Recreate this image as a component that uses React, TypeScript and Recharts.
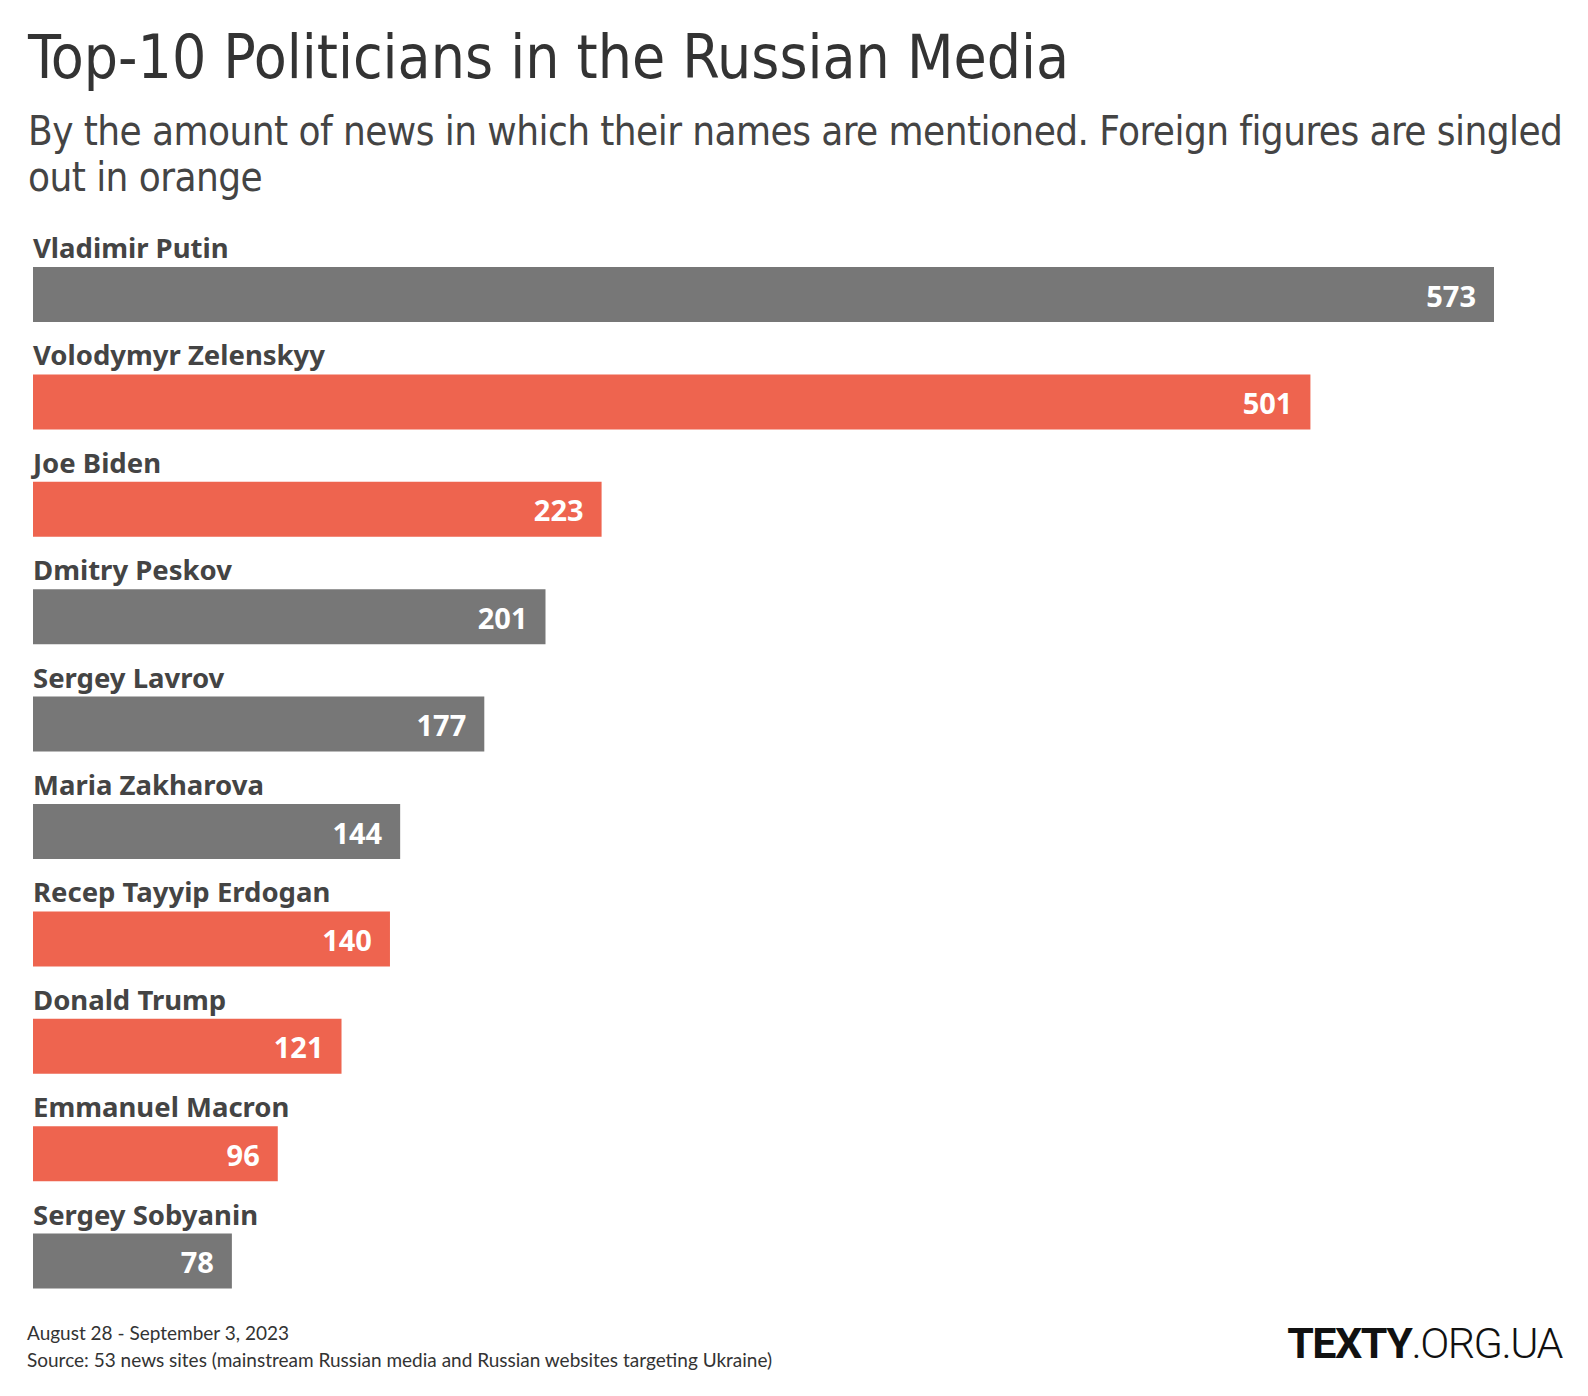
import React from 'react';
import { BarChart, Bar, XAxis, YAxis, Cell, LabelList } from 'recharts';

const names = [
    'Vladimir Putin',
    'Volodymyr Zelenskyy',
    'Joe Biden',
    'Dmitry Peskov',
    'Sergey Lavrov',
    'Maria Zakharova',
    'Recep Tayyip Erdogan',
    'Donald Trump',
    'Emmanuel Macron',
    'Sergey Sobyanin',
];
const mentions = [573, 501, 223, 201, 177, 144, 140, 121, 96, 78];
const foreign = [false, true, true, false, false, false, true, true, true, false];

const GREY = '#777777';
const ORANGE = '#ee644f';
const condensed = '"Liberation Sans Narrow", "DejaVu Sans Condensed", "Roboto", sans-serif';
const sans = '"Source Sans Pro", "Noto Sans", "Lato", sans-serif';
const footerFont = '"Source Sans Pro", "Lato", sans-serif';

const data = names.map((name, i) => ({ name, total: mentions[i] }));

// name above the bar, left aligned with it
const NameLabel = (props: any) => {
    const { x, y, value } = props;
    return (
        <text x={x} y={y - 9} fill='#444444' fontFamily={sans} fontWeight={700} fontSize={27.5}>
            {value}
        </text>
    );
};

// value inside the bar, right aligned
const ValueLabel = (props: any) => {
    const { x, y, width, height, value } = props;
    return (
        <text
            x={x + width - 18}
            y={y + height / 2 + 12}
            textAnchor='end'
            fill='#ffffff'
            fontFamily={sans}
            fontWeight={700}
            fontSize={29}
        >
            {value}
        </text>
    );
};

export default function App() {
    return (
        <div style={{ position: 'absolute', left: 0, top: 0, width: 1588, height: 1396, background: '#fff' }}>
            <div
                style={{
                    position: 'absolute',
                    left: 28,
                    top: 22,
                    fontFamily: condensed,
                    fontSize: 60,
                    color: '#333333',
                    whiteSpace: 'nowrap',
                }}
            >
                Top-10 Politicians in the Russian Media
            </div>
            <div
                style={{
                    position: 'absolute',
                    left: 28,
                    top: 108,
                    width: 1558,
                    fontFamily: condensed,
                    fontSize: 40,
                    letterSpacing: -0.55,
                    lineHeight: '46px',
                    color: '#444444',
                }}
            >
                By the amount of news in which their names are mentioned. Foreign figures are singled out in orange
            </div>

            <div style={{ position: 'absolute', left: 0, top: 0 }}>
                <BarChart
                    width={1588}
                    height={1396}
                    data={data}
                    layout='vertical'
                    margin={{ top: 241, right: 94, bottom: 81, left: 33 }}
                    barSize={55}
                >
                    <XAxis type='number' domain={[0, 573]} hide />
                    <YAxis type='category' dataKey='name' hide width={0} />
                    <Bar dataKey='total' isAnimationActive={false}>
                        {data.map((d, i) => (
                            <Cell key={d.name} fill={foreign[i] ? ORANGE : GREY} />
                        ))}
                        <LabelList dataKey='name' content={NameLabel} />
                        <LabelList dataKey='total' content={ValueLabel} />
                    </Bar>
                </BarChart>
            </div>

            <div
                style={{
                    position: 'absolute',
                    left: 27,
                    top: 1319,
                    fontFamily: footerFont,
                    fontSize: 19,
                    lineHeight: '27px',
                    color: '#333333',
                }}
            >
                <div>August 28 - September 3, 2023</div>
                <div>Source: 53 news sites (mainstream Russian media and Russian websites targeting Ukraine)</div>
            </div>
            <div
                style={{
                    position: 'absolute',
                    right: 26,
                    top: 1318,
                    fontFamily: '"Roboto", sans-serif',
                    fontSize: 43,
                    color: '#111111',
                    letterSpacing: -1.5,
                }}
            >
                <span style={{ fontWeight: 700 }}>TEXTY</span>
                <span style={{ fontWeight: 300 }}>.ORG.UA</span>
            </div>
        </div>
    );
}
